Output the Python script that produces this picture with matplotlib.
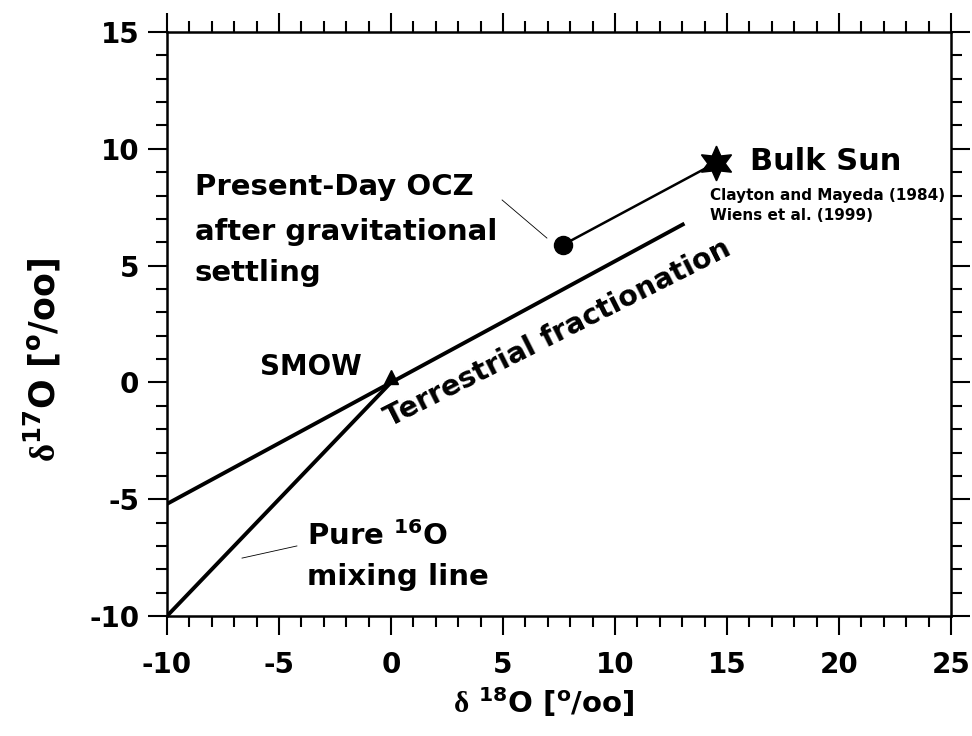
import matplotlib
matplotlib.use("Agg")
import matplotlib.pyplot as plt

plt.rcParams['font.family'] = ['DejaVu Sans']
plt.rcParams['font.weight'] = 'bold'
plt.rcParams['axes.unicode_minus'] = False
plt.rcParams['mathtext.fontset'] = 'custom'
plt.rcParams['mathtext.rm'] = 'Liberation Serif'
plt.rcParams['mathtext.bf'] = 'DejaVu Sans:bold'
plt.rcParams['mathtext.it'] = 'DejaVu Sans:bold'
plt.rcParams['mathtext.default'] = 'bf'

# Data
terr_x = [-10.0, 13.1]
terr_y = [-5.2, 6.8]
mix_x = [-10.0, 0.0]
mix_y = [-10.0, 0.0]
smow = (0.0, 0.0)
ocz = (7.7, 5.9)
sun = (14.5, 9.4)
xticks = [-10, -5, 0, 5, 10, 15, 20, 25]
yticks = [-10, -5, 0, 5, 10, 15]

fig = plt.figure(figsize=(9.72, 7.36), dpi=100)
ax = fig.add_axes([0.1718, 0.163, 0.8066, 0.7935])

ax.plot(terr_x, terr_y, color='black', lw=2.8, solid_capstyle='butt')
ax.plot(mix_x, mix_y, color='black', lw=2.8, solid_capstyle='butt')
ax.plot([ocz[0], sun[0]], [ocz[1], sun[1]], color='black', lw=1.8)
ax.plot([smow[0]], [smow[1] + 0.25], marker='^', color='black', ms=10, ls='none')
ax.plot([ocz[0]], [ocz[1]], marker='o', color='black', ms=13, ls='none')
ax.plot([sun[0]], [sun[1]], marker=(6, 1, 0), color='black', ms=25, ls='none')

# leader lines
ax.plot([4.96, 6.96], [7.81, 6.18], color='black', lw=0.6)
ax.plot([-4.2, -6.65], [-7.0, -7.52], color='black', lw=0.6)

ax.set_xlim(-10, 25)
ax.set_ylim(-10, 15)
ax.set_xticks(xticks)
ax.set_yticks(yticks)
ax.set_xticks(range(-10, 26), minor=True)
ax.set_yticks(range(-10, 16), minor=True)

ax.tick_params(which='both', direction='out', top=True, right=True, width=1.5, labelsize=20)
ax.tick_params(which='major', length=14)
ax.tick_params(which='minor', length=8)
ax.tick_params(axis='x', which='major', pad=11)
ax.tick_params(axis='y', which='major', pad=6)
for s in ax.spines.values():
    s.set_linewidth(1.8)
for lab in ax.get_xticklabels() + ax.get_yticklabels():
    lab.set_fontweight('bold')

ax.set_xlabel(r'$\mathrm{\delta}\ ^{18}$O [$^{o}$/oo]', fontsize=21, fontweight='bold')
ax.xaxis.set_label_coords(0.48, -0.118)
ax.set_ylabel(r'$\mathrm{\delta}^{17}$O [$^{o}$/oo]', fontsize=25, fontweight='bold')
ax.yaxis.set_label_coords(-0.133, 0.438)

ax.text(-5.85, 0.32, 'SMOW', fontsize=20, ha='left', va='baseline')
ax.text(-8.75, 8.02, 'Present-Day OCZ', fontsize=21, ha='left', va='baseline')
ax.text(-8.75, 6.10, 'after gravitational', fontsize=21, ha='left', va='baseline')
ax.text(-8.75, 4.34, 'settling', fontsize=21, ha='left', va='baseline')
ax.text(16.03, 9.09, 'Bulk Sun', fontsize=22, ha='left', va='baseline')
ax.text(14.24, 7.81, 'Clayton and Mayeda (1984)', fontsize=11, ha='left', va='baseline')
ax.text(14.24, 6.95, 'Wiens et al. (1999)', fontsize=11, ha='left', va='baseline')
ax.text(7.45, 2.1, 'Terrestrial fractionation', fontsize=20.5, ha='center', va='center',
        rotation=26.8, rotation_mode='anchor')
ax.text(-3.75, -6.96, r'Pure $^{16}$O', fontsize=21, ha='left', va='baseline')
ax.text(-3.75, -8.67, 'mixing line', fontsize=21, ha='left', va='baseline')

fig.savefig('out.png', dpi=100)
